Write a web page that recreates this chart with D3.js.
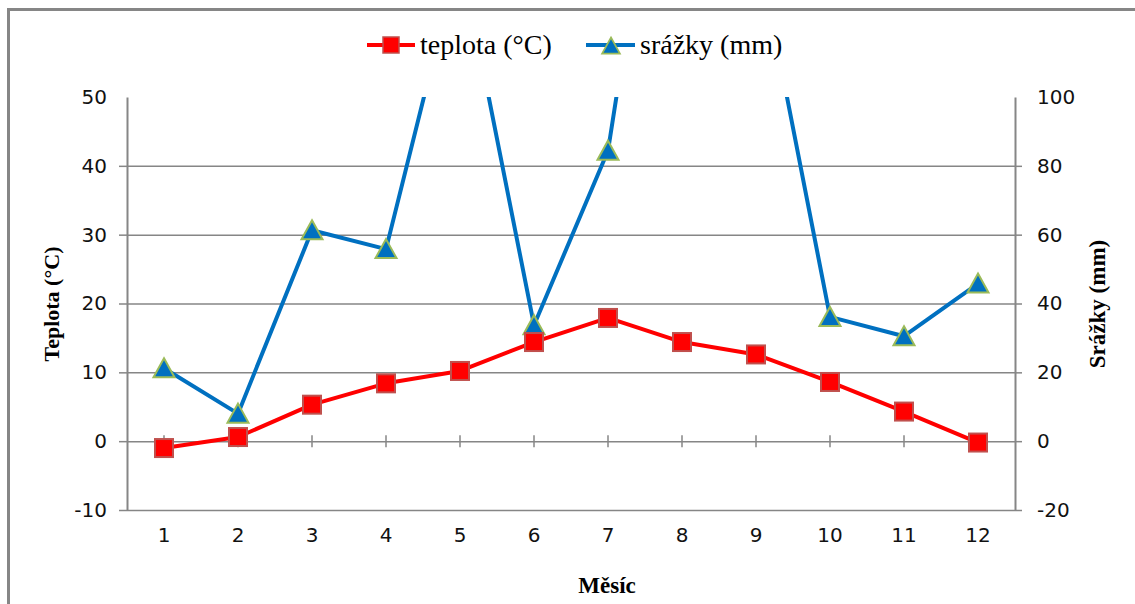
<!DOCTYPE html>
<html>
<head>
<meta charset="utf-8">
<script src="https://cdn.jsdelivr.net/npm/d3@7"></script>
<style>
  body { margin: 0; background: #fff; }
</style>
</head>
<body>
<div id="chart"></div>
<script>
    // Data
    const months = [1, 2, 3, 4, 5, 6, 7, 8, 9, 10, 11, 12];
    const teplota = [-1.0, 0.6, 5.3, 8.4, 10.2, 14.4, 17.9, 14.4, 12.6, 8.6, 4.3, -0.2];
    const srazky = [21.2, 8.0, 61.3, 55.8, 142, 33.7, 84.4, 222, 146, 36.1, 30.5, 45.8];
    const leftTicks = [-10, 0, 10, 20, 30, 40, 50];
    const rightTicks = [-20, 0, 20, 40, 60, 80, 100];

    const W = 1135, H = 604;
    const margin = { top: 97, right: 120, bottom: 94, left: 127 };
    const width = W - margin.left - margin.right;   // 888
    const height = H - margin.top - margin.bottom;  // 413

    const svgRoot = d3.select("#chart").append("svg")
        .attr("width", W)
        .attr("height", H);

    // outer chart border (only top and left visible)
    svgRoot.append("path")
        .attr("d", "M8.5," + H + " V9.5 H" + W)
        .attr("fill", "none")
        .attr("stroke", "#868686")
        .attr("stroke-width", 3);

    const svg = svgRoot.append("g")
        .attr("transform", "translate(" + margin.left + "," + margin.top + ")");

    const x = d3.scaleBand().domain(months).range([0, width]);
    const yL = d3.scaleLinear().domain([-10, 50]).range([height, 0]);
    const yR = d3.scaleLinear().domain([-20, 100]).range([height, 0]);
    const cx = d => x(d) + x.bandwidth() / 2;
    const fmt = d => String(d); // plain hyphen for negatives

    const gridColor = "#868686";
    const labelStyle = g => g.selectAll(".tick text")
        .style("font-family", "'DejaVu Sans', sans-serif")
        .style("font-size", "20px")
        .attr("fill", "#111");

    // horizontal gridlines
    svg.append("g")
        .attr("class", "grid")
        .call(d3.axisLeft(yL).tickValues([-10, 10, 20, 30, 40]).tickSize(-width).tickFormat(""))
        .call(g => g.select(".domain").remove())
        .call(g => g.selectAll("line").attr("stroke", gridColor).attr("stroke-width", 1.5));

    // left axis
    svg.append("g")
        .call(d3.axisLeft(yL).tickValues(leftTicks).tickFormat(fmt).tickSize(8).tickSizeOuter(0).tickPadding(12))
        .call(labelStyle)
        .call(g => g.select(".domain").attr("stroke", gridColor).attr("stroke-width", 2))
        .call(g => g.selectAll(".tick line").attr("stroke", gridColor).attr("stroke-width", 1.5))
        .call(g => g.selectAll(".tick").filter(d => d === 50).select("line").remove());

    // right axis
    svg.append("g")
        .attr("transform", "translate(" + width + ",0)")
        .call(d3.axisRight(yR).tickValues(rightTicks).tickFormat(fmt).tickSize(7).tickSizeOuter(0).tickPadding(15))
        .call(labelStyle)
        .call(g => g.select(".domain").attr("stroke", gridColor).attr("stroke-width", 2))
        .call(g => g.selectAll(".tick line").attr("stroke", gridColor).attr("stroke-width", 1.5))
        .call(g => g.selectAll(".tick").filter(d => d === 100).select("line").remove());

    // category axis crossing at 0
    svg.append("g")
        .attr("transform", "translate(0," + yL(0) + ")")
        .call(d3.axisBottom(x).tickSize(6).tickSizeOuter(0).tickFormat(""))
        .call(g => g.select(".domain").attr("stroke", gridColor).attr("stroke-width", 1.5))
        .call(g => g.selectAll(".tick line").attr("y1", -6).attr("stroke", gridColor).attr("stroke-width", 1.5));

    // category labels below plot
    svg.append("g")
        .attr("transform", "translate(0," + height + ")")
        .call(d3.axisBottom(x).tickSize(0).tickPadding(18))
        .call(labelStyle)
        .call(g => g.select(".domain").remove());

    // clip for off-scale precipitation
    svg.append("clipPath").attr("id", "plot-clip")
        .append("rect").attr("x", -20).attr("y", 0).attr("width", width + 40).attr("height", height);

    const tData = months.map((m, i) => ({ m: m, v: teplota[i] }));
    const sData = months.map((m, i) => ({ m: m, v: srazky[i] }));

    const blue = "#0070C0", red = "#FF0000";
    const triangle = "M0,-10 L10.5,9 L-10.5,9 Z";

    // precipitation line
    const sLayer = svg.append("g").attr("clip-path", "url(#plot-clip)");
    sLayer.append("path")
        .datum(sData)
        .attr("fill", "none")
        .attr("stroke", blue)
        .attr("stroke-width", 4)
        .attr("stroke-linejoin", "round")
        .attr("d", d3.line().x(d => cx(d.m)).y(d => yR(d.v)));
    sLayer.selectAll(".tri")
        .data(sData.filter(d => d.v <= 100))
        .join("path")
        .attr("class", "tri")
        .attr("transform", d => "translate(" + cx(d.m) + "," + yR(d.v) + ")")
        .attr("d", triangle)
        .attr("fill", blue)
        .attr("stroke", "#9BBB59")
        .attr("stroke-width", 2);

    // temperature line
    svg.append("path")
        .datum(tData)
        .attr("fill", "none")
        .attr("stroke", red)
        .attr("stroke-width", 4)
        .attr("stroke-linejoin", "round")
        .attr("d", d3.line().x(d => cx(d.m)).y(d => yL(d.v)));
    svg.selectAll(".sq")
        .data(tData)
        .join("rect")
        .attr("class", "sq")
        .attr("x", d => cx(d.m) - 9)
        .attr("y", d => yL(d.v) - 9)
        .attr("width", 18)
        .attr("height", 18)
        .attr("fill", red)
        .attr("stroke", "#C0504D")
        .attr("stroke-width", 2);

    // axis titles
    const serif = "'Liberation Serif', 'Times New Roman', serif";
    svgRoot.append("text")
        .attr("transform", "translate(59,304) rotate(-90)")
        .attr("text-anchor", "middle")
        .style("font-family", serif).style("font-size", "22px").style("font-weight", "bold")
        .text("Teplota (°C)");
    svgRoot.append("text")
        .attr("transform", "translate(1105,304) rotate(-90)")
        .attr("text-anchor", "middle")
        .style("font-family", serif).style("font-size", "23px").style("font-weight", "bold")
        .text("Srážky (mm)");
    svgRoot.append("text")
        .attr("x", 607).attr("y", 593)
        .attr("text-anchor", "middle")
        .style("font-family", serif).style("font-size", "23px").style("font-weight", "bold")
        .text("Měsíc");

    // legend
    const legend = svgRoot.append("g").attr("transform", "translate(0,45)");
    legend.append("line").attr("x1", 367).attr("x2", 415).attr("y1", 0).attr("y2", 0)
        .attr("stroke", red).attr("stroke-width", 4);
    legend.append("rect").attr("x", 383).attr("y", -8).attr("width", 16).attr("height", 16)
        .attr("fill", red).attr("stroke", "#C0504D").attr("stroke-width", 1.5);
    legend.append("text").attr("x", 420).attr("y", 9)
        .style("font-family", serif).style("font-size", "28px")
        .text("teplota (°C)");
    legend.append("line").attr("x1", 586).attr("x2", 635).attr("y1", 0).attr("y2", 0)
        .attr("stroke", blue).attr("stroke-width", 4);
    legend.append("path").attr("transform", "translate(611,1) scale(0.85)")
        .attr("d", triangle)
        .attr("fill", blue).attr("stroke", "#9BBB59").attr("stroke-width", 2);
    legend.append("text").attr("x", 640).attr("y", 9)
        .style("font-family", serif).style("font-size", "28px")
        .text("srážky (mm)");
</script>
</body>
</html>
